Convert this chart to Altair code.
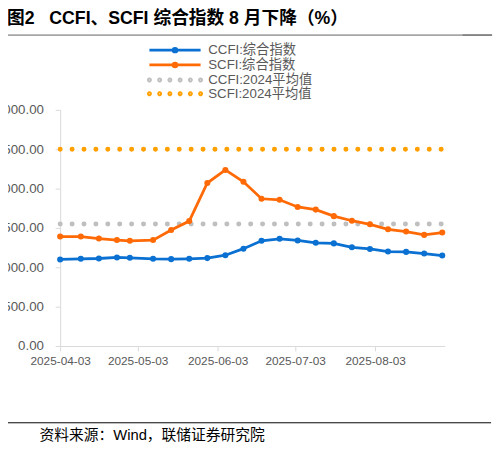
import altair as alt
import pandas as pd

dates = ["2025-04-03", "2025-04-11", "2025-04-18", "2025-04-25", "2025-04-30",
         "2025-05-09", "2025-05-16", "2025-05-23", "2025-05-30", "2025-06-06",
         "2025-06-13", "2025-06-20", "2025-06-27", "2025-07-04", "2025-07-11",
         "2025-07-18", "2025-07-25", "2025-08-01", "2025-08-08", "2025-08-15",
         "2025-08-22", "2025-08-29"]
ccfi = [1100, 1108, 1112, 1125, 1121, 1108, 1104, 1108, 1117, 1154, 1237,
        1337, 1362, 1341, 1312, 1304, 1254, 1233, 1200, 1196, 1175, 1150]
scfi = [1391, 1391, 1366, 1346, 1337, 1346, 1475, 1587, 2071, 2237, 2087,
        1871, 1858, 1767, 1733, 1650, 1592, 1546, 1483, 1454, 1412, 1442]
ccfi_avg_2024 = 1550
scfi_avg_2024 = 2500

series_names = ["CCFI:综合指数", "SCFI:综合指数"]
avg_names = ["CCFI:2024平均值", "SCFI:2024平均值"]
tick_dates = [(2025, 4, 3), (2025, 5, 3), (2025, 6, 3), (2025, 7, 3), (2025, 8, 3)]
title_text = "图2\u00a0\u00a0\u00a0CCFI、SCFI 综合指数 8 月下降（%）"
source_text = "资料来源：Wind，联储证券研究院"

line_colors = ["#0A70D2", "#FF6A06"]
avg_colors = ["#BFBFBF", "#FFA000"]

rows = []
for d, a, b in zip(dates, ccfi, scfi):
    rows.append({"date": d, "series": series_names[0], "value": a})
    rows.append({"date": d, "series": series_names[1], "value": b})
idx = pd.DataFrame(rows)

avg_rows = []
for d in dates:
    avg_rows.append({"date": d, "series": avg_names[0], "value": ccfi_avg_2024})
    avg_rows.append({"date": d, "series": avg_names[1], "value": scfi_avg_2024})
avg = pd.DataFrame(avg_rows)

LAT = "Liberation Sans, Arial, Noto Sans CJK SC"

def dt(t):
    return alt.DateTime(year=t[0], month=t[1], date=t[2], utc=True)

xenc = alt.X("date:T",
             scale=alt.Scale(type="utc", domain=[dt((2025, 4, 3)), dt((2025, 8, 30))]),
             axis=alt.Axis(values=[dt(t) for t in tick_dates],
                           labelExpr="utcFormat(datum.value, '%Y-%m-%d')",
                           title=None, grid=False,
                           domainColor="#D9D9D9", tickColor="#D9D9D9", tickSize=5,
                           labelColor="#595959", labelFont=LAT, labelFontSize=12,
                           labelPadding=5, labelFlush=False))
yenc = alt.Y("value:Q",
             scale=alt.Scale(domain=[0, 3000], nice=False, zero=True),
             axis=alt.Axis(values=[0, 500, 1000, 1500, 2000, 2500, 3000], format=",.2f",
                           title=None, grid=False, domainColor="#D9D9D9",
                           tickColor="#D9D9D9", tickSize=5, labelColor="#595959",
                           labelFont=LAT, labelFontSize=13.5, labelPadding=12))

# legend symbol paths (unit scale = 5px with symbolSize 100)
def circle(cx, r):
    return "M{:.2f},0A{r},{r},0,1,1,{:.2f},0A{r},{r},0,1,1,{:.2f},0Z".format(
        cx + r, cx - r, cx + r, r=r)

line_dot_path = "M-5.2,0L5.2,0" + circle(0, 0.36) + circle(0, 0.12)
dot_path = ""
for cx in [-5.2, -3.12, -1.04, 1.04, 3.12, 5.2]:
    dot_path += circle(cx, 0.2) + circle(cx, 0.05)

leg_common = dict(orient="none", title=None, symbolSize=100, symbolStrokeWidth=3,
                  labelFont=LAT, labelFontSize=13.5, labelColor="#595959",
                  labelOffset=27, rowPadding=-3.1, padding=0)

avg_layer = alt.Chart(avg).mark_line(strokeWidth=5, strokeDash=[0.1, 12],
                                     strokeCap="round").encode(
    x=xenc, y=yenc,
    color=alt.Color("series:N",
                    scale=alt.Scale(domain=avg_names, range=avg_colors),
                    legend=alt.Legend(symbolType=dot_path, legendX=110, legendY=-37.2,
                                      symbolDash=[1, 0], **leg_common)))

line_layer = alt.Chart(idx).mark_line(strokeWidth=2.8).encode(
    x=xenc, y=yenc,
    stroke=alt.Stroke("series:N",
                      scale=alt.Scale(domain=series_names, range=line_colors),
                      legend=alt.Legend(symbolType=line_dot_path, legendX=110,
                                        legendY=-67.5, **leg_common)))

pt_layer = alt.Chart(idx).mark_circle(size=38, opacity=1).encode(
    x=xenc, y=yenc,
    fill=alt.Fill("series:N",
                  scale=alt.Scale(domain=series_names, range=line_colors),
                  legend=None))

one = alt.Data(values=[{"a": 1}])

top_rule = alt.Chart(one).mark_rule(color="#A6A6A6", strokeWidth=1.6).encode(
    x=alt.value(-56), x2=alt.value(439), y=alt.value(-76))
top_rule_dark = alt.Chart(one).mark_rule(color="#7F7F7F", strokeWidth=1.6).encode(
    x=alt.value(409), x2=alt.value(439), y=alt.value(-76))
bot_rule = alt.Chart(one).mark_rule(color="#000000", strokeWidth=1).encode(
    x=alt.value(-56), x2=alt.value(438), y=alt.value(318))

title = alt.Chart(one).mark_text(text=title_text, align="left", baseline="middle",
                                 font="Liberation Sans, Noto Sans CJK SC",
                                 fontWeight="bold", fontSize=18, color="#000000").encode(
    x=alt.value(-54), y=alt.value(-92))
source = alt.Chart(one).mark_text(text=source_text, align="left", baseline="middle",
                                  font="Liberation Sans, Noto Sans CJK SC",
                                  fontSize=15, color="#000000").encode(
    x=alt.value(-21), y=alt.value(331))

chart = alt.layer(avg_layer, line_layer, pt_layer, top_rule, top_rule_dark, bot_rule,
                  title, source).resolve_scale(
    color="independent", stroke="independent", fill="independent"
).properties(
    width=391, height=240,
    padding={"left": 53, "top": 100, "right": 52, "bottom": 95},
    autosize=alt.AutoSizeParams(type="none"),
    background="#FFFFFF"
).configure_view(stroke=None)

chart.save("out.html", embed_options={"renderer": "svg", "actions": False})
